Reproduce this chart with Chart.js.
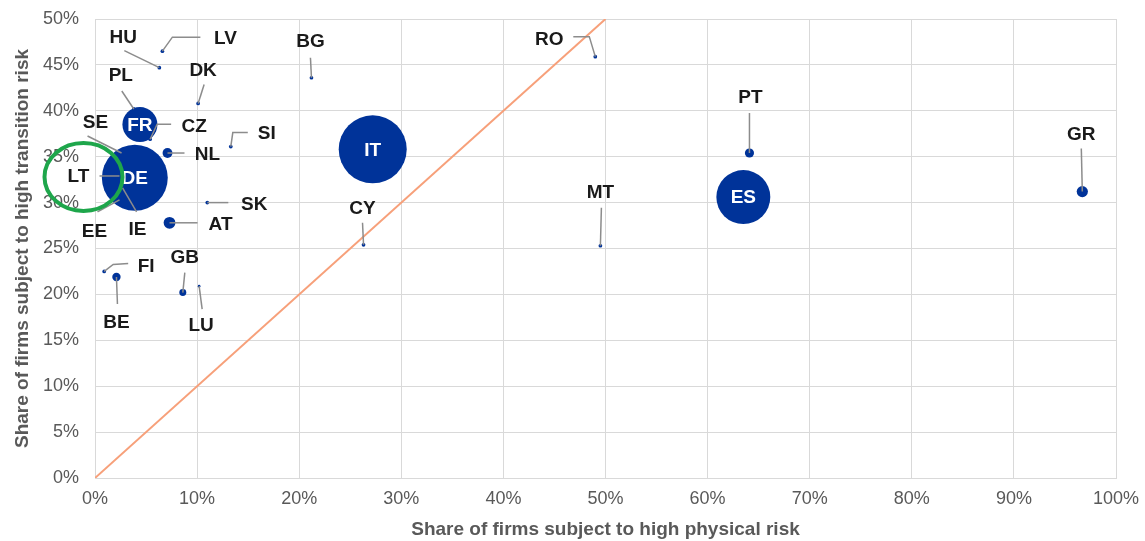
<!DOCTYPE html>
<html>
<head>
<meta charset="utf-8">
<script src="https://cdn.jsdelivr.net/npm/chart.js@4.4.1/dist/chart.umd.min.js"></script>
<style>
  html, body { margin: 0; padding: 0; background: #fff; }
  #c { display: block; }
</style>
</head>
<body>
<canvas id="c" width="1145" height="541"></canvas>
<script>
// countries, share of firms with high physical / transition risk (%), sample weight (%)
const countries  = ['HU', 'LV', 'BG', 'DK', 'PL', 'FR', 'CZ', 'SE', 'NL', 'SI', 'DE', 'LT', 'IE', 'EE', 'SK', 'AT', 'FI', 'BE', 'GB', 'LU', 'CY', 'IT', 'RO', 'MT', 'PT', 'ES', 'GR'];
const physical   = [6.3, 6.6, 21.2, 10.1, 3.8, 4.4, 5.4, 2.6, 7.1, 13.3, 3.9, 2.4, 2.7, 2.4, 11.0, 7.3, 0.9, 2.1, 8.6, 10.2, 26.3, 27.2, 49.0, 49.5, 64.1, 63.5, 96.7];
const transition = [44.7, 46.5, 43.6, 40.8, 40.2, 38.5, 36.9, 35.4, 35.4, 36.1, 32.7, 32.9, 31.6, 30.3, 30.0, 27.8, 22.5, 21.9, 20.2, 20.9, 25.4, 35.8, 45.9, 25.3, 35.4, 30.6, 31.2];
const weight     = [0.1, 0.1, 0.1, 0.1, 0.1, 8.8, 0.1, 0.1, 0.7, 0.1, 31.2, 0.1, 0.1, 0.1, 0.1, 1.0, 0.1, 0.5, 0.35, 0.05, 0.1, 33.2, 0.1, 0.1, 0.6, 20.9, 0.9];

const diagonalX = [0, 50];
const diagonalY = [0, 50];

const xTicks = [0, 10, 20, 30, 40, 50, 60, 70, 80, 90, 100];
const yTicks = [0, 5, 10, 15, 20, 25, 30, 35, 40, 45, 50];

const blue = '#003399';
const grey = '#595959';
const fontFamily = '"Liberation Sans", Arial, sans-serif';

// labels drawn inside the big bubbles
const insideLabels = ['FR', 'DE', 'IT', 'ES'];

// label position and leader line, relative to the point (px)
const callouts = {
  HU: { label: [-36, -31], line: [[0, 0], [-35, -17]] },
  LV: { label: [63, -13], line: [[0, 0], [10, -14], [38, -14]] },
  BG: { label: [-1, -37], line: [[0, 0], [-1, -20]] },
  DK: { label: [5, -34], line: [[0, 0], [6, -19]] },
  PL: { label: [-13, -34], line: [[0, 0], [-12, -18]] },
  CZ: { label: [44, -13], line: [[0, 0], [7, -15], [21, -15]] },
  SE: { label: [-26, -31], line: [[0, 0], [-34, -17]] },
  NL: { label: [40, 1], line: [[0, 0], [17, 0]] },
  SI: { label: [36, -14], line: [[0, 0], [2, -14], [17, -14]] },
  LT: { label: [-41, 0], line: [[0, 0], [-20, 0]] },
  IE: { label: [15, 41], line: [[0, 0], [14, 24]] },
  EE: { label: [-25, 31], line: [[0, 0], [-22, 12]] },
  SK: { label: [47, 1], line: [[0, 0], [21, 0]] },
  AT: { label: [51, 1], line: [[0, 0], [28, 0]] },
  FI: { label: [42, -6], line: [[0, 0], [9, -7], [24, -8]] },
  BE: { label: [0, 45], line: [[0, 0], [1, 27]] },
  GB: { label: [2, -36], line: [[0, 0], [2, -20]] },
  LU: { label: [2, 39], line: [[0, 0], [3, 23]] },
  RO: { label: [-46, -18], line: [[0, 0], [-6, -20], [-22, -20]] },
  CY: { label: [-1, -37], line: [[0, 0], [-1, -22]] },
  MT: { label: [0, -54], line: [[0, 0], [1, -38]] },
  PT: { label: [1, -56], line: [[0, 0], [0, -40]] },
  GR: { label: [-1, -58], line: [[0, 0], [-1, -43]] }
};

const radius = (w) => 5.9 * Math.sqrt(w);

const bubbleData = countries.map((c, i) => ({ x: physical[i], y: transition[i], r: radius(weight[i]), name: c }));
const diagonalData = diagonalX.map((x, i) => ({ x: x, y: diagonalY[i] }));

const calloutPlugin = {
  id: 'callouts',
  afterDatasetsDraw(chart) {
    const ctx = chart.ctx;
    const meta = chart.getDatasetMeta(1);
    ctx.save();
    ctx.textAlign = 'center';
    ctx.textBaseline = 'middle';
    meta.data.forEach((pt, i) => {
      const name = countries[i];
      if (insideLabels.includes(name)) {
        ctx.fillStyle = '#ffffff';
        ctx.font = 'bold 19px ' + fontFamily;
        ctx.fillText(name, pt.x, pt.y + 1);
        return;
      }
      const co = callouts[name];
      if (!co) return;
      ctx.strokeStyle = '#8c8c8c';
      ctx.lineWidth = 1.5;
      ctx.beginPath();
      co.line.forEach((p, k) => {
        if (k === 0) ctx.moveTo(pt.x + p[0], pt.y + p[1]);
        else ctx.lineTo(pt.x + p[0], pt.y + p[1]);
      });
      ctx.stroke();
      ctx.fillStyle = '#1a1a1a';
      ctx.font = 'bold 19px ' + fontFamily;
      ctx.fillText(name, pt.x + co.label[0], pt.y + co.label[1] + 1);
    });

    // green highlight ring round LT
    const lt = meta.data[countries.indexOf('LT')];
    ctx.strokeStyle = '#1ea64b';
    ctx.lineWidth = 4;
    ctx.beginPath();
    ctx.ellipse(lt.x - 36, lt.y + 1, 39, 34, 0, 0, Math.PI * 2);
    ctx.stroke();
    ctx.restore();
  }
};

new Chart(document.getElementById('c'), {
  type: 'bubble',
  data: {
    datasets: [
      {
        type: 'line',
        data: diagonalData,
        borderColor: '#f7a07a',
        borderWidth: 2,
        pointRadius: 0,
        fill: false
      },
      {
        data: bubbleData,
        backgroundColor: blue,
        borderColor: blue,
        borderWidth: 0
      }
    ]
  },
  options: {
    responsive: false,
    animation: false,
    layout: { autoPadding: false, padding: { left: 0, right: 29, top: 19, bottom: 0 } },
    plugins: {
      legend: { display: false },
      tooltip: { enabled: false }
    },
    scales: {
      x: {
        type: 'linear',
        min: 0,
        max: 100,
        afterBuildTicks: (scale) => { scale.ticks = xTicks.map(v => ({ value: v })); },
        afterFit: (scale) => {
          scale.height = 63;
          scale.paddingLeft = 0;
          scale.paddingRight = 0;
        },
        grid: { color: '#d9d9d9', lineWidth: 1, drawTicks: false },
        border: { color: '#d9d9d9' },
        ticks: {
          padding: 10,
          color: grey,
          font: { family: fontFamily, size: 18 },
          callback: (v) => v + '%'
        },
        title: {
          display: true,
          text: 'Share of firms subject to high physical risk',
          color: grey,
          font: { family: fontFamily, size: 19, weight: 'bold' },
          padding: { top: 0, bottom: 0 }
        }
      },
      y: {
        type: 'linear',
        min: 0,
        max: 50,
        afterBuildTicks: (scale) => { scale.ticks = yTicks.map(v => ({ value: v })); },
        afterFit: (scale) => {
          scale.width = 95;
          scale.paddingTop = 0;
          scale.paddingBottom = 0;
        },
        grid: { color: '#d9d9d9', lineWidth: 1, drawTicks: false },
        border: { color: '#d9d9d9' },
        ticks: {
          padding: 16,
          color: grey,
          font: { family: fontFamily, size: 18 },
          callback: (v) => v + '%'
        },
        title: {
          display: true,
          text: 'Share of firms subject to high transition risk',
          color: grey,
          font: { family: fontFamily, size: 19, weight: 'bold' },
          padding: { top: 11, bottom: 0 }
        }
      }
    }
  },
  plugins: [calloutPlugin]
});
</script>
</body>
</html>
